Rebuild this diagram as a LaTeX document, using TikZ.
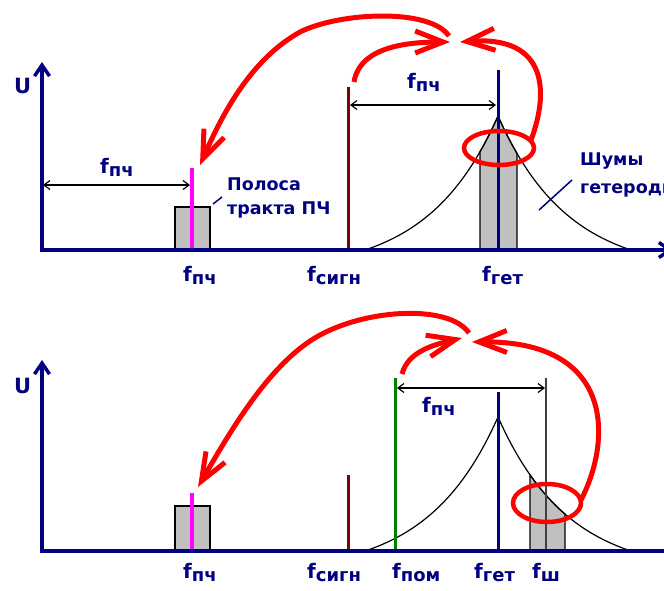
\documentclass[tikz,border=0pt]{standalone}
\usepackage{fontspec}
\setmainfont{DejaVu Sans}
\usetikzlibrary{arrows.meta}
\definecolor{navy}{RGB}{0,0,128}
\definecolor{maroon}{RGB}{128,0,0}
\definecolor{dgreen}{RGB}{0,128,0}
\definecolor{lgray}{RGB}{192,192,192}
\definecolor{mag}{RGB}{255,0,255}
\definecolor{rred}{RGB}{255,0,0}
\definecolor{dgray}{RGB}{64,64,64}
\pgfmathdeclarefunction{nz}{1}{\pgfmathparse{157.6*exp(-abs(#1)/70)-23.6}}
\newcommand\flab[1]{{\fontsize{20}{20}\selectfont f}\raisebox{-3pt}{\fontsize{18}{18}\selectfont #1}}
\begin{document}
\begin{tikzpicture}[x=1pt,y=-1pt,
  axis/.style={draw=navy, line width=3.5pt, -{Straight Barb[length=11pt,width=15pt]}},
  lbl/.style={inner sep=0pt, anchor=base west, text=navy, font=\bfseries},
  note/.style={inner sep=0pt, anchor=base west, text=navy, font=\bfseries\fontsize{17.5}{20}\selectfont},
  dim/.style={draw=black, line width=1.2pt, {Straight Barb[length=6pt,width=9pt]}-{Straight Barb[length=6pt,width=9pt]}},
  redarr/.style={draw=rred, line width=5pt, -{Straight Barb[length=28pt,width=22pt]}},
  redring/.style={draw=rred, line width=4.5pt},
  band/.style={fill=lgray, draw=black, line width=1.2pt},
  noise/.style={draw=black, line width=1.2pt},
  leader/.style={draw=navy, line width=1.5pt},
  spike/.style={line width=3pt},
  ulbl/.style={inner sep=0pt, anchor=base west, text=navy, font=\bfseries\fontsize{21}{21}\selectfont},
]
\useasboundingbox (0,0) rectangle (664,590);
\clip (0,0) rectangle (664,590);

% ================= TOP PANEL =================
\path[band] (175,250) rectangle (210,207);
\path[band] (480,250) -- plot[domain=-18:0,samples=12] ({498+\x},{250-nz(\x)})
   -- plot[domain=0:19,samples=12] ({498+\x},{250-nz(\x)}) -- (517,250) -- cycle;
\draw[noise] plot[domain=-133:0,samples=60] ({498+\x},{250-nz(\x)})
   -- plot[domain=0:133,samples=60] ({498+\x},{250-nz(\x)});
\draw[spike, mag, line width=3.5pt] (192,250) -- (192,168);
\draw[spike, maroon] (348,250) -- (348,87);
\draw[spike, navy] (498,250) -- (498,70);
\draw[axis] (40.25,250) -- (673,250);
\draw[axis] (42,251.75) -- (42,62);

\coordinate (dA1) at (43,185);  \coordinate (dA2) at (190,185);
\coordinate (dB1) at (350,105); \coordinate (dB2) at (496,105);
\draw[dim] (dA1) -- (dA2);
\draw[dim] (dB1) -- (dB2);

\node[ulbl] (U1) at (14,93) {U};
\node[lbl] (t1) at (100,173) {\flab{пч}};
\node[lbl] (t2) at (407,88) {\flab{пч}};
\node[lbl] (t3) at (183,281) {\flab{пч}};
\node[lbl] (t4) at (307,281) {\flab{сигн}};
\node[lbl] (t5) at (482,281) {\flab{гет}};
\node[note] (n1) at (227,190) {Полоса};
\node[note] (n2) at (227,214) {тракта ПЧ};
\node[note] (n3) at (580,165) {Шумы};
\node[note] (n4) at (580,193) {гетеродина};
\coordinate (l1a) at (213,204); \coordinate (l1b) at (222,197);
\coordinate (l2a) at (539,210); \coordinate (l2b) at (572,180);
\draw[leader] (l1a) -- (l1b);
\draw[leader] (l2a) -- (l2b);

\draw[redring] (499,148) ellipse [x radius=35pt, y radius=17pt];
\coordinate (T1) at (354,82);
\coordinate (Tm1) at (450,42);
\coordinate (Tr) at (531,140);
\coordinate (Tm2) at (460,42);
\coordinate (Ts) at (449,36);
\coordinate (Te) at (200,165);
\draw[redarr] (T1) .. controls (360,45) and (412,42) .. (Tm1);
\draw[redarr] (Tr) .. controls (548,95) and (550,35) .. (Tm2);
\draw[redarr] (Ts) .. controls (430,8) and (340,12) .. (300,32)
   .. controls (250,60) and (222,115) .. (Te);

% ================= BOTTOM PANEL =================
\path[band] (175,551) rectangle (210,506);
\path[band] (530,551) -- plot[domain=32:67,samples=15] ({498+\x},{551-nz(\x)}) -- (565,551) -- cycle;
\draw[noise] plot[domain=-133:0,samples=60] ({498+\x},{551-nz(\x)})
   -- plot[domain=0:133,samples=60] ({498+\x},{551-nz(\x)});
\draw[dgray, line width=1.5pt] (546,551) -- (546,378);
\draw[spike, mag, line width=3.5pt] (192,551) -- (192,493);
\draw[spike, maroon] (348,551) -- (348,475);
\draw[spike, dgreen] (395,551) -- (395,378);
\draw[spike, navy] (498,551) -- (498,392);
\draw[axis] (40.25,551) -- (685,551);
\draw[axis] (42,552.75) -- (42,360);

\coordinate (dC1) at (397,388); \coordinate (dC2) at (545,388);
\draw[dim] (dC1) -- (dC2);

\node[ulbl] (U2) at (14,393) {U};
\node[lbl] (b0) at (422,412) {\flab{пч}};
\node[lbl] (b1) at (183,578) {\flab{пч}};
\node[lbl] (b2) at (307,578) {\flab{сигн}};
\node[lbl] (b3) at (392,578) {\flab{пом}};
\node[lbl] (b4) at (474,578) {\flab{гет}};
\node[lbl] (b5) at (532,578) {\flab{ш}};

\draw[redring] (547,503) ellipse [x radius=34pt, y radius=19pt];
\coordinate (B1) at (402,374);
\coordinate (Bm1) at (462,338);
\coordinate (Br) at (581,500);
\coordinate (Bm2) at (472,342);
\coordinate (Bs) at (469,333);
\coordinate (Be) at (198,487);
\draw[redarr] (B1) .. controls (408,352) and (432,345) .. (Bm1);
\draw[redarr] (Br) .. controls (612,440) and (615,340) .. (Bm2);
\draw[redarr] (Bs) .. controls (450,305) and (370,308) .. (320,335)
   .. controls (270,362) and (230,432) .. (Be);
\end{tikzpicture}
\end{document}
